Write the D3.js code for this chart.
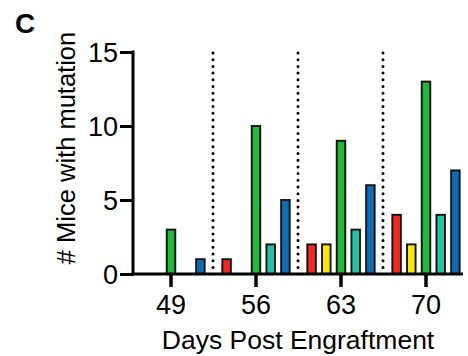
<!DOCTYPE html>
<html lang="en">
<head>
<meta charset="utf-8" />
<title>Mice with mutation</title>
<script src="https://cdn.jsdelivr.net/npm/d3@7"></script>
<style>
  body { margin: 0; background: #fff; }
  text { font-family: "Liberation Sans", Arial, sans-serif; fill: #000; }
</style>
</head>
<body>
<script>
  // DATA
  var days = [49, 56, 63, 70];
  var series = ["red", "yellow", "green", "teal", "blue"];
  var red    = [0, 1, 2, 4];
  var yellow = [0, 0, 2, 2];
  var green  = [3, 10, 9, 13];
  var teal   = [0, 2, 3, 4];
  var blue   = [1, 5, 6, 7];
  var yTicks = [0, 5, 10, 15];

  var colors = {red: "#f5281d", yellow: "#ffe600", green: "#1fba3b", teal: "#1fc4a2", blue: "#0b6cb6"};
  var values = {red: red, yellow: yellow, green: green, teal: teal, blue: blue};

  // CONFIG
  var width = 468, height = 356;
  var x0 = 133, x1 = 463, yBase = 274, yTop = 52;

  var svg = d3.select("body").append("svg")
      .attr("width", width)
      .attr("height", height);

  var x = d3.scaleBand()
      .domain(days)
      .range([128.5, 468.5]);

  var xInner = d3.scaleBand()
      .domain(series)
      .range([-36.75, 36.75])
      .paddingInner(0.42)
      .paddingOuter(0.21);

  var y = d3.scaleLinear()
      .domain([0, 15])
      .range([yBase, yTop]);

  // bars
  var rows = [];
  days.forEach(function(d, i) {
    series.forEach(function(s) {
      rows.push({day: d, s: s, v: values[s][i]});
    });
  });

  svg.append("g").selectAll("rect")
    .data(rows.filter((r) => r.v > 0))
    .enter().append("rect")
      .attr("x", (r) => x(r.day) + x.bandwidth()/2 + xInner(r.s))
      .attr("width", xInner.bandwidth())
      .attr("y", (r) => y(r.v))
      .attr("height", (r) => yBase - y(r.v))
      .attr("fill", (r) => colors[r.s])
      .attr("stroke", "#111")
      .attr("stroke-width", 1.9);

  // dotted separators
  svg.append("g").selectAll("line")
    .data(days.slice(1))
    .enter().append("line")
      .attr("x1", (d) => x(d) - 0.5)
      .attr("x2", (d) => x(d) - 0.5)
      .attr("y1", y(15) + 1)
      .attr("y2", yBase)
      .attr("stroke", "#000")
      .attr("stroke-width", 3)
      .attr("stroke-linecap", "round")
      .attr("stroke-dasharray", "0 6.7");

  // y axis
  var yAxis = svg.append("g")
      .attr("transform", `translate(${x0},0)`)
      .call(d3.axisLeft(y).tickValues(yTicks).tickSize(13).tickPadding(2));
  yAxis.select(".domain").remove();
  yAxis.append("line")
      .attr("y1", yTop - 1.5).attr("y2", yBase + 1.5)
      .attr("stroke", "#000").attr("stroke-width", 3);
  yAxis.selectAll(".tick line").attr("stroke", "#000").attr("stroke-width", 3);
  yAxis.selectAll(".tick text")
      .style("font-size", "27px")
      .attr("dy", "0.36em")
      .attr("fill", "#000");

  // x axis
  var xAxis = svg.append("g")
      .attr("transform", `translate(0,${yBase})`)
      .call(d3.axisBottom(x).tickSize(13).tickPadding(8));
  xAxis.select(".domain").remove();
  xAxis.append("line")
      .attr("x1", x0 - 1.5).attr("x2", x1)
      .attr("stroke", "#000").attr("stroke-width", 3);
  xAxis.selectAll(".tick line").attr("stroke", "#000").attr("stroke-width", 3.5);
  xAxis.selectAll(".tick text")
      .style("font-size", "27px")
      .attr("fill", "#000");

  // titles
  svg.append("text")
      .attr("x", 298)
      .attr("y", 349)
      .attr("text-anchor", "middle")
      .style("font-size", "26.5px")
      .text("Days Post Engraftment");

  svg.append("text")
      .attr("transform", "translate(75,148) rotate(-90)")
      .attr("text-anchor", "middle")
      .style("font-size", "25.5px")
      .text("# Mice with mutation");

  svg.append("text")
      .attr("x", 15)
      .attr("y", 33)
      .style("font-size", "28px")
      .style("font-weight", "bold")
      .text("C");
</script>
</body>
</html>
